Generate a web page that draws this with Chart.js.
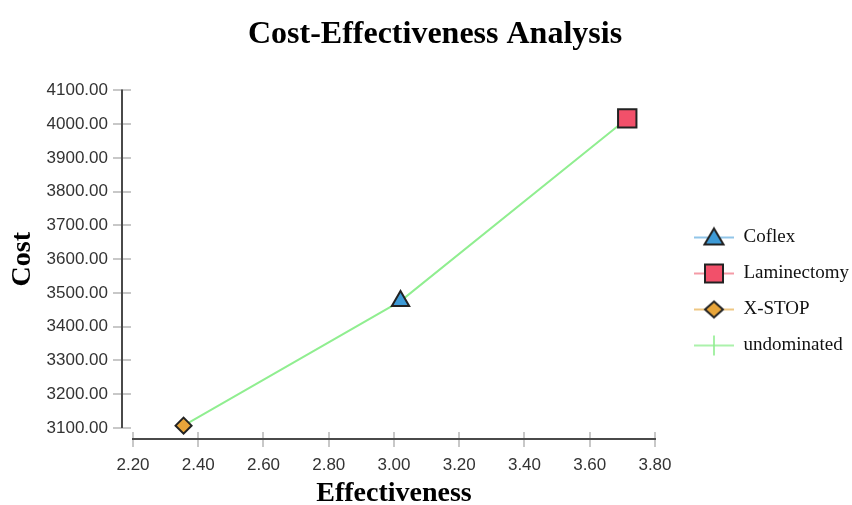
<!DOCTYPE html>
<html>
<head>
<meta charset="utf-8">
<script src="https://cdn.jsdelivr.net/npm/chart.js@4/dist/chart.umd.min.js"></script>
<style>
  html, body { margin: 0; padding: 0; background: #ffffff; }
  #wrap { width: 852px; height: 505px; position: relative; }
</style>
</head>
<body>
<div id="wrap"><canvas id="c"></canvas></div>
<script>
// ---- data ----
const strategies = ['Coflex', 'Laminectomy', 'X-STOP'];
const effectiveness = [3.02, 3.715, 2.355];
const cost = [3476, 4017, 3107];
const undominatedEff = [2.355, 3.02, 3.715];
const undominatedCost = [3107, 3476, 4017];
const xTicks = [2.2, 2.4, 2.6, 2.8, 3.0, 3.2, 3.4, 3.6, 3.8];
const yTicks = [3100, 3200, 3300, 3400, 3500, 3600, 3700, 3800, 3900, 4000, 4100];

// ---- styles ----
const markerStyle = {
  'Coflex':      { shape: 'triangle', r: 10, fill: '#3d9ad6', line: '#6cb2e0' },
  'Laminectomy': { shape: 'rect',     r: 13, fill: '#f2506a', line: '#f07a88' },
  'X-STOP':      { shape: 'rectRot',  r: 8,  fill: '#e8a53a', line: '#e8b45a' }
};
const undomColor = '#90ee90';

function legendIcon(kind) {
  const c = document.createElement('canvas');
  c.width = 42; c.height = 24;
  const g = c.getContext('2d');
  const cx = 21, cy = 12;
  if (kind === 'undominated') {
    g.strokeStyle = undomColor; g.lineWidth = 1.6;
    g.beginPath(); g.moveTo(1, cy); g.lineTo(41, cy); g.moveTo(cx, cy - 10); g.lineTo(cx, cy + 10); g.stroke();
    return c;
  }
  const s = markerStyle[kind];
  g.strokeStyle = s.line; g.lineWidth = 1.6;
  g.beginPath(); g.moveTo(1, cy); g.lineTo(41, cy); g.stroke();
  g.fillStyle = s.fill; g.strokeStyle = '#222'; g.lineWidth = 2;
  g.beginPath();
  if (s.shape === 'triangle') {
    g.moveTo(cx, cy - 9); g.lineTo(cx + 9.5, cy + 7); g.lineTo(cx - 9.5, cy + 7); g.closePath();
  } else if (s.shape === 'rect') {
    g.rect(cx - 9, cy - 9, 18, 18);
  } else {
    g.moveTo(cx, cy - 8); g.lineTo(cx + 9, cy); g.lineTo(cx, cy + 8); g.lineTo(cx - 9, cy); g.closePath();
  }
  g.fill(); g.stroke();
  return c;
}

const datasets = strategies.map((name, i) => ({
  label: name,
  data: [{ x: effectiveness[i], y: cost[i] }],
  pointStyle: markerStyle[name].shape,
  pointRadius: markerStyle[name].r,
  pointHoverRadius: markerStyle[name].r,
  pointBackgroundColor: markerStyle[name].fill,
  pointBorderColor: '#222222',
  pointBorderWidth: 2,
  showLine: false,
  clip: false,
  order: 1
}));
datasets.push({
  label: 'undominated',
  data: undominatedEff.map((x, i) => ({ x: x, y: undominatedCost[i] })),
  showLine: true,
  borderColor: undomColor,
  borderWidth: 2,
  pointRadius: 0,
  pointHoverRadius: 0,
  clip: false,
  order: 2
});

const axesPlugin = {
  id: 'detachedAxes',
  afterLayout(chart) {
    const lg = chart.legend;
    if (lg) { lg.left += 22; lg.right += 22; lg.top += 13; lg.bottom += 13; }
  },
  beforeDatasetsDraw(chart) {
    const { ctx, chartArea: a, scales: { x, y } } = chart;
    ctx.save();
    ctx.lineCap = 'butt';
    ctx.strokeStyle = '#c8c8c8'; ctx.lineWidth = 2;
    yTicks.forEach(v => {
      const py = Math.round(y.getPixelForValue(v));
      ctx.beginPath(); ctx.moveTo(a.left - 20, py); ctx.lineTo(a.left - 2, py); ctx.stroke();
    });
    xTicks.forEach(v => {
      const px = Math.round(x.getPixelForValue(v));
      ctx.beginPath(); ctx.moveTo(px, a.bottom + 4); ctx.lineTo(px, a.bottom + 19); ctx.stroke();
    });
    ctx.strokeStyle = '#4a4a4a'; ctx.lineWidth = 2;
    ctx.beginPath(); ctx.moveTo(a.left - 11, a.top - 1); ctx.lineTo(a.left - 11, a.bottom); ctx.stroke();
    ctx.beginPath(); ctx.moveTo(a.left - 1, a.bottom + 11); ctx.lineTo(a.right + 1, a.bottom + 11); ctx.stroke();
    ctx.restore();
  }
};

new Chart(document.getElementById('c'), {
  type: 'scatter',
  data: { datasets },
  plugins: [axesPlugin],
  options: {
    responsive: true,
    maintainAspectRatio: false,
    animation: false,
    layout: { padding: { left: 33, right: 15, top: 0, bottom: 0 } },
    plugins: {
      tooltip: { enabled: false },
      title: {
        display: true,
        text: 'Cost-Effectiveness Analysis',
        color: '#000',
        font: { family: 'Liberation Serif', size: 32, weight: 'bold' },
        padding: { top: 16, bottom: 36 }
      },
      legend: {
        position: 'right',
        title: { display: true, text: ' ', padding: { top: 0, bottom: 40 }, font: { size: 10 } },
        labels: {
          usePointStyle: true,
          pointStyleWidth: 40,
          boxHeight: 19,
          padding: 17,
          color: '#111',
          font: { family: 'Liberation Serif', size: 19 },
          generateLabels(chart) {
            return chart.data.datasets.map((d, i) => ({
              text: d.label,
              pointStyle: legendIcon(d.label),
              datasetIndex: i,
              fillStyle: 'transparent',
              strokeStyle: 'transparent',
              fontColor: '#111',
              lineWidth: 0,
              hidden: false
            }));
          }
        }
      }
    },
    scales: {
      x: {
        type: 'linear',
        min: 2.2, max: 3.8,
        afterBuildTicks(s) { s.ticks = xTicks.map(v => ({ value: v })); },
        afterFit(s) { s.height = 77; },
        grid: { display: false, drawTicks: false },
        border: { display: false },
        ticks: {
          padding: 27,
          color: '#333',
          font: { family: 'Liberation Sans', size: 17 },
          callback: v => Number(v).toFixed(2)
        },
        title: {
          display: true, text: 'Effectiveness', color: '#000',
          font: { family: 'Liberation Serif', size: 28, weight: 'bold' },
          padding: { top: 2, bottom: -6 }
        }
      },
      y: {
        type: 'linear',
        min: 3100, max: 4100,
        afterBuildTicks(s) { s.ticks = yTicks.map(v => ({ value: v })); },
        afterFit(s) { s.width = 100; },
        grid: { display: false, drawTicks: false },
        border: { display: false },
        ticks: {
          padding: 25,
          color: '#333',
          font: { family: 'Liberation Sans', size: 17 },
          callback: v => Number(v).toFixed(2)
        },
        title: {
          display: true, text: 'Cost', color: '#000',
          font: { family: 'Liberation Serif', size: 28, weight: 'bold' },
          padding: { top: -27, bottom: 0 }
        }
      }
    }
  }
});
</script>
</body>
</html>
